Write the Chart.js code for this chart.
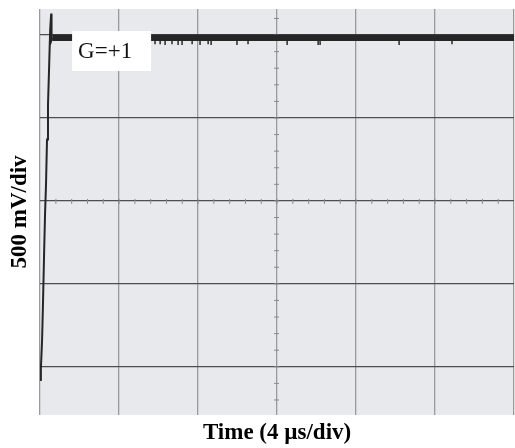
<!DOCTYPE html>
<html>
<head>
  <meta charset="UTF-8">
  <title>G=+1 step response</title>
  <script src="https://cdn.jsdelivr.net/npm/chart.js"></script>
  <style>
    body { margin: 0; background: #fff; }
  </style>
</head>
<body>
  <canvas id="scope" width="515" height="448"></canvas>

  <script>
    // rising edge (time in µs, output in V)
    const riseTime  = [0, 0.04, 0.10, 0.15, 0.20, 0.25, 0.30, 0.35, 0.40, 0.46, 0.51, 0.56, 0.58, 0.62];
    const riseVolts = [-1.08, -1.01, -0.84, -0.60, -0.33, -0.08, 0.10, 0.37, 0.58, 0.82, 1.03, 1.13, 0.97, 0.983];
    // settled level (noisy band)
    const bandTime  = [0.62, 24];
    const bandVolts = [0.983, 0.983];
    // downward noise spikes below the band
    const spikeTimes = [5.82, 6.08, 6.33, 6.68, 6.99, 7.19, 7.70, 8.10, 8.51, 8.66, 9.97, 10.53, 12.51, 14.08, 14.18, 18.18, 20.86];
    const spikeLows  = [0.945, 0.945, 0.94, 0.945, 0.94, 0.94, 0.945, 0.94, 0.945, 0.94, 0.94, 0.945, 0.94, 0.94, 0.94, 0.94, 0.945];
    const spikeTop = 0.965;
    // grid
    const timeTicks = [0, 4, 8, 12, 16, 20, 24];
    const voltTicks = [-1, -0.5, 0, 0.5, 1];
    const labelText = "G=+1";
    const labelBox = { t0: 1.62, t1: 5.62, v0: 1.024, v1: 0.783 };

    const rise = riseTime.map((t, i) => ({ x: t, y: riseVolts[i] }));
    const band = bandTime.map((t, i) => ({ x: t, y: bandVolts[i] }));
    const spikes = [];
    spikeTimes.forEach((t, i) => {
      spikes.push({ x: t, y: spikeTop }, { x: t, y: spikeLows[i] }, { x: t, y: null });
    });

    const scopeDecor = {
      id: 'scopeDecor',
      beforeDraw(chart) {
        const { ctx, chartArea: a } = chart;
        ctx.save();
        ctx.fillStyle = '#e8e9ed';
        ctx.fillRect(a.left, a.top, a.right - a.left, a.bottom - a.top);
        ctx.restore();
      },
      beforeDatasetsDraw(chart) {
        // small division marks on the centre axes
        const { ctx, scales: { x, y } } = chart;
        ctx.save();
        ctx.strokeStyle = '#8a8a8a';
        ctx.lineWidth = 1;
        const cx = x.getPixelForValue(12), cy = y.getPixelForValue(0);
        for (let v = -1.2; v <= 1.15; v += 0.1) {
          const py = y.getPixelForValue(v);
          ctx.beginPath(); ctx.moveTo(cx - 3, py); ctx.lineTo(cx + 2, py); ctx.stroke();
        }
        for (let t = 0.8; t < 24; t += 0.8) {
          const px = x.getPixelForValue(t);
          ctx.beginPath(); ctx.moveTo(px, cy - 2); ctx.lineTo(px, cy + 3); ctx.stroke();
        }
        ctx.restore();
      },
      afterDatasetsDraw(chart) {
        const { ctx, scales: { x, y } } = chart;
        const l = x.getPixelForValue(labelBox.t0), r = x.getPixelForValue(labelBox.t1);
        const t = y.getPixelForValue(labelBox.v0), b = y.getPixelForValue(labelBox.v1);
        ctx.save();
        ctx.fillStyle = '#fff';
        ctx.fillRect(l, t, r - l, b - t);
        ctx.fillStyle = '#111';
        ctx.font = '23px "Liberation Serif", "Times New Roman", serif';
        ctx.textBaseline = 'middle';
        ctx.fillText(labelText, l + 6, (t + b) / 2 + 1);
        ctx.restore();
      }
    };

    new Chart(document.getElementById('scope'), {
      type: 'line',
      data: {
        datasets: [
          { data: band, borderColor: '#262626', borderWidth: 6.5, pointRadius: 0 },
          { data: rise, borderColor: '#262626', borderWidth: 2, pointRadius: 0, tension: 0 },
          { data: spikes, borderColor: '#2a2a2a', borderWidth: 1.5, pointRadius: 0, spanGaps: false }
        ]
      },
      options: {
        responsive: false,
        animation: false,
        layout: { padding: { top: 9, right: 1, left: 0, bottom: 0 } },
        plugins: { legend: { display: false }, tooltip: { enabled: false } },
        scales: {
          x: {
            type: 'linear', min: 0, max: 24,
            afterBuildTicks: s => { s.ticks = timeTicks.map(v => ({ value: v })); },
            ticks: { display: false },
            border: { display: false },
            grid: { color: '#9a9a9a', lineWidth: 1.3, drawTicks: false },
            title: {
              display: true, text: 'Time (4 µs/div)', color: '#000',
              font: { family: '"Liberation Serif", "Times New Roman", serif', size: 23, weight: 'bold' },
              padding: { top: 4, bottom: 1.5 }
            }
          },
          y: {
            type: 'linear', min: -1.29, max: 1.157,
            afterBuildTicks: s => { s.ticks = voltTicks.map(v => ({ value: v })); },
            ticks: { display: false },
            border: { display: false },
            grid: { color: '#4e4e4e', lineWidth: 1.3, drawTicks: false },
            title: {
              display: true, text: '500 mV/div', color: '#000',
              font: { family: '"Liberation Serif", "Times New Roman", serif', size: 23, weight: 'bold' },
              padding: { top: 6.5, bottom: 6 }
            }
          }
        }
      },
      plugins: [scopeDecor]
    });
  </script>
</body>
</html>
